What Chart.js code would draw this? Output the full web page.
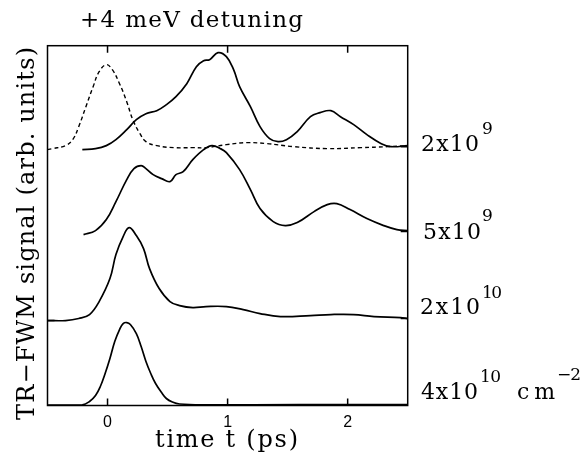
<!DOCTYPE html>
<html>
<head>
<meta charset="utf-8">
<script src="https://cdn.jsdelivr.net/npm/chart.js@4/dist/chart.umd.min.js"></script>
<style>
  body { margin: 0; background: #fff; }
</style>
</head>
<body>
<canvas id="myChart" width="582" height="462"></canvas>
<script>
// values: time in ps, signal in arb. units (traces are stacked)
const pulseT = [-0.5, -0.46, -0.35, -0.29, -0.24, -0.18, -0.12, -0.07, -0.01, 0.04, 0.10, 0.16, 0.21, 0.27, 0.32, 0.41, 0.55, 0.71, 0.82, 0.99, 1.16, 1.33, 1.55, 1.83, 2.11, 2.33, 2.5]
const pulseV = [25.6, 25.7, 26.0, 26.6, 27.9, 29.9, 31.9, 33.4, 34.1, 33.6, 32.2, 30.4, 28.6, 27.2, 26.4, 26.0, 25.8, 25.8, 25.8, 26.1, 26.3, 26.2, 25.9, 25.7, 25.8, 25.9, 26.0]

const t2e9 = [-0.21, -0.10, -0.01, 0.07, 0.16, 0.24, 0.32, 0.41, 0.49, 0.57, 0.66, 0.74, 0.80, 0.85, 0.92, 0.99, 1.05, 1.10, 1.19, 1.27, 1.35, 1.42, 1.49, 1.58, 1.69, 1.77, 1.86, 1.94, 2.05, 2.16, 2.28, 2.36, 2.5]
const v2e9 = [25.6, 25.7, 26.0, 26.6, 27.6, 28.6, 29.2, 29.5, 30.1, 30.9, 32.2, 33.9, 34.5, 34.6, 35.3, 34.9, 33.6, 31.9, 29.9, 27.9, 26.7, 26.4, 26.6, 27.4, 28.9, 29.3, 29.5, 28.9, 28.1, 27.1, 26.2, 25.9, 26.0]

const t5e9 = [-0.20, -0.10, -0.01, 0.07, 0.16, 0.22, 0.28, 0.32, 0.38, 0.45, 0.52, 0.57, 0.63, 0.71, 0.80, 0.87, 0.94, 0.99, 1.10, 1.19, 1.27, 1.38, 1.48, 1.58, 1.72, 1.83, 1.91, 2.02, 2.16, 2.30, 2.41, 2.5]
const v5e9 = [17.1, 17.5, 18.6, 20.4, 22.6, 23.7, 24.0, 23.7, 23.1, 22.7, 22.4, 23.1, 23.4, 24.6, 25.6, 26.0, 25.7, 25.3, 23.6, 21.6, 19.7, 18.4, 18.0, 18.3, 19.4, 20.1, 20.2, 19.6, 18.7, 18.0, 17.6, 17.5]

const t2e10 = [-0.5, -0.35, -0.24, -0.15, -0.07, 0.02, 0.07, 0.13, 0.18, 0.24, 0.30, 0.35, 0.43, 0.52, 0.60, 0.71, 0.82, 0.99, 1.13, 1.27, 1.44, 1.69, 1.86, 2.05, 2.22, 2.44, 2.5]
const v2e10 = [8.5, 8.5, 8.7, 9.1, 10.4, 12.7, 15.1, 16.9, 17.8, 17.0, 15.7, 13.7, 11.7, 10.4, 10.0, 9.8, 9.9, 9.9, 9.6, 9.2, 8.9, 9.0, 9.1, 9.1, 8.9, 8.8, 8.7]

const t4e10 = [-0.5, -0.21, -0.15, -0.10, -0.06, -0.02, 0.02, 0.06, 0.10, 0.13, 0.16, 0.19, 0.24, 0.28, 0.32, 0.36, 0.40, 0.45, 0.49, 0.54, 0.60, 0.82, 1.60, 2.5]
const v4e10 = [0.05, 0.07, 0.4, 1.0, 1.9, 3.2, 4.7, 6.4, 7.6, 8.2, 8.3, 8.1, 7.2, 5.9, 4.4, 3.2, 2.2, 1.3, 0.7, 0.35, 0.15, 0.07, 0.08, 0.1]

const xTickLabels = ['0', '1', '2']
const baselineTicks = [25.9, 17.4, 8.7]

function pts(ts, vs) {
  return ts.map((t, i) => ({ x: t, y: vs[i] }))
}

function spaced(ctx, text, x, y, width) {
  ctx.letterSpacing = '0px'
  const w = ctx.measureText(text).width
  const ls = text.length > 1 ? (width - w) / (text.length - 1) : 0
  ctx.letterSpacing = ls + 'px'
  ctx.textAlign = 'left'
  ctx.fillText(text, x, y)
  ctx.letterSpacing = '0px'
}

const serif = '"DejaVu Serif", serif'

const decor = {
  id: 'decor',
  afterDraw(chart) {
    const ctx = chart.ctx
    const a = chart.chartArea
    const xs = chart.scales.x
    const ys = chart.scales.y
    ctx.save()
    ctx.strokeStyle = '#000'
    ctx.fillStyle = '#000'
    ctx.lineWidth = 1.5
    ctx.strokeRect(a.left, a.top, a.right - a.left, a.bottom - a.top)

    // inner tick marks
    ctx.beginPath()
    xTickLabels.forEach(l => {
      const px = xs.getPixelForValue(Number(l))
      ctx.moveTo(px, a.top); ctx.lineTo(px, a.top + 7)
      ctx.moveTo(px, a.bottom); ctx.lineTo(px, a.bottom - 7)
    })
    baselineTicks.forEach(v => {
      const py = ys.getPixelForValue(v)
      ctx.moveTo(a.right, py); ctx.lineTo(a.right - 7, py)
    })
    const ly = ys.getPixelForValue(8.5)
    ctx.moveTo(a.left, ly); ctx.lineTo(a.left + 7, ly)
    ctx.stroke()

    // tick labels
    ctx.font = '16px "Liberation Sans", sans-serif'
    ctx.textAlign = 'center'
    ctx.textBaseline = 'middle'
    xTickLabels.forEach(l => {
      ctx.fillText(l, xs.getPixelForValue(Number(l)), 422.5)
    })

    ctx.textBaseline = 'alphabetic'
    ctx.font = '23px ' + serif
    spaced(ctx, '+4 meV detuning', 80, 27, 223)
    ctx.font = '24px ' + serif
    spaced(ctx, 'time t (ps)', 155, 447, 143)

    ctx.save()
    ctx.translate(34, 420)
    ctx.rotate(-Math.PI / 2)
    ctx.font = '24px ' + serif
    spaced(ctx, 'TR\u2212FWM signal (arb. units)', 0, 0, 373)
    ctx.restore()

    // density labels
    const big = '22px ' + serif
    const sup = '17px ' + serif
    ctx.font = big; spaced(ctx, '2x10', 421, 151, 58)
    ctx.font = sup; spaced(ctx, '9', 482, 134, 10)
    ctx.font = big; spaced(ctx, '5x10', 423, 238.5, 58)
    ctx.font = sup; spaced(ctx, '9', 482, 221, 10)
    ctx.font = big; spaced(ctx, '2x10', 420, 313.5, 60)
    ctx.font = sup; spaced(ctx, '10', 482, 298, 20)
    ctx.font = big; spaced(ctx, '4x10', 421, 398.5, 57)
    ctx.font = sup; spaced(ctx, '10', 480, 382, 21)
    ctx.font = big; spaced(ctx, 'cm', 517, 398.5, 38)
    ctx.font = sup; spaced(ctx, '\u22122', 557, 380, 24)
    ctx.restore()
  }
}

const line = (data, dash) => ({
  data: data,
  showLine: true,
  borderColor: '#000',
  borderWidth: dash ? 1.4 : 1.7,
  borderDash: dash || [],
  pointRadius: 0,
  tension: 0.4,
  fill: false
})

const ctx = document.getElementById('myChart')
new Chart(ctx, {
  type: 'scatter',
  data: {
    datasets: [
      line(pts(pulseT, pulseV), [4, 3]),
      line(pts(t2e9, v2e9)),
      line(pts(t5e9, v5e9)),
      line(pts(t2e10, v2e10)),
      line(pts(t4e10, v4e10))
    ]
  },
  options: {
    responsive: false,
    animation: false,
    devicePixelRatio: 1,
    layout: { padding: { left: 47.5, right: 174.3, top: 45.7, bottom: 0 } },
    plugins: { legend: { display: false }, tooltip: { enabled: false } },
    scales: {
      x: {
        type: 'linear', min: -0.5, max: 2.5,
        ticks: { display: false, stepSize: 1 },
        grid: { display: false, drawTicks: false },
        border: { display: false },
        afterFit: s => { s.height = 56.5 }
      },
      y: {
        min: 0, max: 36,
        ticks: { display: false },
        grid: { display: false, drawTicks: false },
        border: { display: false },
        afterFit: s => { s.width = 0 }
      }
    }
  },
  plugins: [decor]
});
</script>
</body>
</html>
